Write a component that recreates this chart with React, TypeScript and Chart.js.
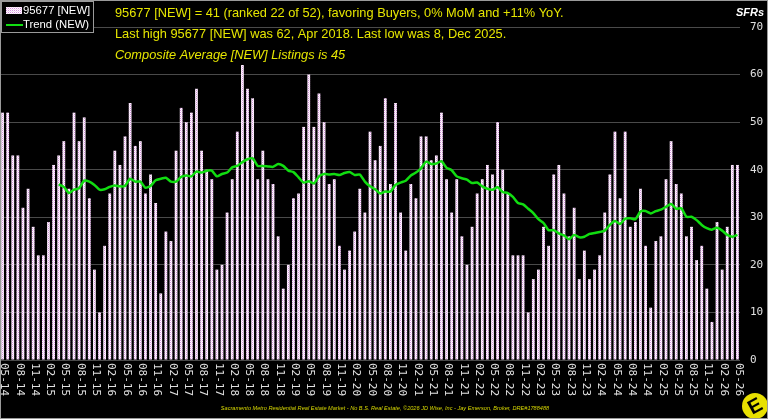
import { useEffect, useRef } from "react";
import { Chart, registerables } from "chart.js";
Chart.register(...registerables);

const months = [
  "05-14","06-14","07-14","08-14","09-14","10-14","11-14","12-14","01-15","02-15","03-15","04-15",
  "05-15","06-15","07-15","08-15","09-15","10-15","11-15","12-15","01-16","02-16","03-16","04-16",
  "05-16","06-16","07-16","08-16","09-16","10-16","11-16","12-16","01-17","02-17","03-17","04-17",
  "05-17","06-17","07-17","08-17","09-17","10-17","11-17","12-17","01-18","02-18","03-18","04-18",
  "05-18","06-18","07-18","08-18","09-18","10-18","11-18","12-18","01-19","02-19","03-19","04-19",
  "05-19","06-19","07-19","08-19","09-19","10-19","11-19","12-19","01-20","02-20","03-20","04-20",
  "05-20","06-20","07-20","08-20","09-20","10-20","11-20","12-20","01-21","02-21","03-21","04-21",
  "05-21","06-21","07-21","08-21","09-21","10-21","11-21","12-21","01-22","02-22","03-22","04-22",
  "05-22","06-22","07-22","08-22","09-22","10-22","11-22","12-22","01-23","02-23","03-23","04-23",
  "05-23","06-23","07-23","08-23","09-23","10-23","11-23","12-23","01-24","02-24","03-24","04-24",
  "05-24","06-24","07-24","08-24","09-24","10-24","11-24","12-24","01-25","02-25","03-25","04-25",
  "05-25","06-25","07-25","08-25","09-25","10-25","11-25","12-25","01-26","02-26","03-26","04-26",
  "05-26",
];

const listings = [
  52, 52, 43, 43, 32, 36, 28, 22, 22, 29, 41, 43,
  46, 36, 52, 46, 51, 34, 19, 10, 24, 35, 44, 41,
  47, 54, 45, 46, 35, 39, 33, 14, 27, 25, 44, 53,
  50, 52, 57, 44, 40, 38, 19, 20, 31, 38, 48, 62,
  57, 55, 38, 44, 38, 37, 26, 15, 20, 34, 35, 49,
  60, 49, 56, 50, 37, 38, 24, 19, 23, 27, 36, 31,
  48, 42, 45, 55, 37, 54, 31, 23, 37, 34, 47, 47,
  42, 43, 52, 38, 31, 38, 26, 20, 28, 35, 38, 41,
  39, 50, 40, 35, 22, 22, 22, 10, 17, 19, 28, 24,
  39, 41, 35, 26, 32, 17, 23, 17, 19, 22, 31, 39,
  48, 34, 48, 28, 29, 36, 24, 11, 25, 26, 38, 46,
  37, 35, 26, 28, 21, 24, 15, 8, 29, 19, 28, 41,
  41,
];

const trend = [
  null, null, null, null, null, null, null, null, null, null, null, 36.9,
  36.4, 35.1, 35.8, 36.1, 37.7, 37.5, 36.8, 35.8, 35.9, 36.4, 36.7, 36.5,
  36.6, 38.1, 37.5, 37.5, 36.2, 36.6, 37.8, 38.1, 38.3, 37.5, 37.5, 38.5,
  38.8, 38.6, 39.6, 39.4, 39.8, 39.8, 38.6, 39.1, 39.4, 40.5, 40.8, 41.6,
  42.2, 42.4, 40.8, 40.8, 40.7, 40.6, 41.2, 40.8, 39.8, 39.5, 38.4, 37.3,
  37.6, 37.1, 38.6, 39.1, 39.0, 39.1, 38.9, 39.3, 39.5, 38.9, 39.0, 37.5,
  36.5, 35.9, 35.0, 35.4, 35.4, 36.8, 37.3, 37.7, 38.8, 39.4, 40.3, 41.7,
  41.2, 41.3, 41.8, 40.4, 39.9, 38.6, 38.2, 37.9, 37.2, 37.3, 36.5, 36.0,
  35.8, 36.3, 35.3, 35.1, 34.3, 33.0, 32.7, 31.8, 30.9, 29.6, 28.8, 27.3,
  27.3, 26.6, 26.2, 25.4, 26.3, 25.8, 25.9, 26.5, 26.7, 26.9, 27.2, 28.4,
  29.2, 28.6, 29.7, 29.8, 29.6, 31.2, 31.3, 30.8, 31.3, 31.6, 32.2, 32.8,
  31.8, 31.9, 30.1, 30.1, 29.4, 28.4, 27.7, 27.4, 27.8, 27.2, 26.3, 25.9,
  26.3,
];

const seriesNames = ["95677 [NEW]", "Trend (NEW)"];
const titleLines = [
  "95677 [NEW] = 41 (ranked 22 of 52), favoring Buyers, 0% MoM and +11% YoY.",
  "Last high 95677 [NEW] was 62, Apr 2018. Last low was 8, Dec 2025.",
  "Composite Average [NEW] Listings is 45",
];
const axisTitle = "SFRs";
const footerText =
  "Sacramento Metro Residential Real Estate Market - No B.S. Real Estate, \u00a92026 JD Wise, Inc - Jay Emerson, Broker, DRE#1788488";

const YELLOW = "#e6e600";
const GREEN = "#11dd11";

function makePattern(): CanvasPattern | string {
  const c = document.createElement("canvas");
  c.width = 2;
  c.height = 2;
  const g = c.getContext("2d");
  if (!g) return "#f0d0f0";
  g.fillStyle = "#ffffff";
  g.fillRect(0, 0, 2, 2);
  g.fillStyle = "#d890e0";
  g.fillRect(0, 0, 1, 1);
  g.fillStyle = "#f4d4f6";
  g.fillRect(1, 1, 1, 1);
  const p = g.createPattern(c, "repeat");
  return p || "#f0d0f0";
}

export default function App() {
  const ref = useRef<HTMLCanvasElement | null>(null);

  useEffect(() => {
    document.body.style.margin = "0";
    document.body.style.background = "#000";
    const canvas = ref.current;
    if (!canvas) return;
    const pattern = makePattern();

    const decor = {
      id: "decor",
      beforeDraw(chart: any) {
        const ctx = chart.ctx;
        ctx.save();
        ctx.fillStyle = "#000";
        ctx.fillRect(0, 0, chart.width, chart.height);
        ctx.restore();
      },
      afterDraw(chart: any) {
        const ctx = chart.ctx;
        const xs = chart.scales.x;
        const area = chart.chartArea;
        ctx.save();
        // x labels, rotated to read downward
        ctx.font = '11px "DejaVu Sans Mono"';
        ctx.fillStyle = "#e0e0e0";
        ctx.textAlign = "left";
        ctx.textBaseline = "middle";
        months.forEach((m, i) => {
          if (i % 3 !== 0) return;
          const x = xs.getPixelForValue(i);
          ctx.save();
          ctx.translate(x + 1.5, area.bottom + 3);
          ctx.rotate(Math.PI / 2);
          ctx.fillText(m, 0, 0);
          ctx.restore();
        });

        // title lines
        ctx.fillStyle = YELLOW;
        ctx.textBaseline = "middle";
        ctx.textAlign = "left";
        ctx.font = '12.8px "Liberation Sans", Arial, sans-serif';
        ctx.fillText(titleLines[0], 115, 13);
        ctx.fillText(titleLines[1], 115, 34);
        ctx.font = 'italic 12.8px "Liberation Sans", Arial, sans-serif';
        ctx.fillText(titleLines[2], 115, 55);

        // axis title
        ctx.fillStyle = "#ffffff";
        ctx.textAlign = "right";
        ctx.font = 'italic bold 11px "Liberation Sans", Arial, sans-serif';
        ctx.fillText(axisTitle, 764, 13);

        // legend
        ctx.fillStyle = "#000";
        ctx.fillRect(1, 1, 93, 32);
        ctx.strokeStyle = "#9a9a9a";
        ctx.lineWidth = 1;
        ctx.strokeRect(1.5, 1.5, 92, 31);
        ctx.fillStyle = pattern as any;
        ctx.fillRect(6, 7, 16, 7);
        ctx.strokeStyle = GREEN;
        ctx.lineWidth = 2;
        ctx.beginPath();
        ctx.moveTo(6, 25);
        ctx.lineTo(23, 25);
        ctx.stroke();
        ctx.fillStyle = "#ffffff";
        ctx.textAlign = "left";
        ctx.font = '11.3px "Liberation Sans", Arial, sans-serif';
        ctx.fillText(seriesNames[0], 23, 11);
        ctx.fillText(seriesNames[1], 23, 25);

        // footer
        ctx.fillStyle = "#d8d800";
        ctx.textAlign = "center";
        ctx.font = 'italic 5.6px "Liberation Sans", Arial, sans-serif';
        ctx.fillText(footerText, 385, 408);

        // logo
        ctx.fillStyle = "#e8e000";
        ctx.beginPath();
        ctx.arc(755, 406, 13, 0, Math.PI * 2);
        ctx.fill();
        ctx.save();
        ctx.translate(755, 406);
        ctx.rotate(-0.5);
        ctx.fillStyle = "#000";
        ctx.textAlign = "center";
        ctx.textBaseline = "middle";
        ctx.font = 'bold 20px "Liberation Sans", Arial, sans-serif';
        ctx.fillText("E", 0, 1);
        ctx.restore();

        // frame
        ctx.strokeStyle = "#9a9a9a";
        ctx.lineWidth = 1;
        ctx.strokeRect(0.5, 0.5, chart.width - 1, chart.height - 1);
        ctx.restore();
      },
    };

    const chart = new Chart(canvas, {
      type: "bar",
      data: {
        labels: months,
        datasets: [
          {
            type: "line",
            label: seriesNames[1],
            data: trend,
            borderColor: GREEN,
            borderWidth: 2.5,
            pointRadius: 0,
            tension: 0.2,
            fill: false,
            order: 0,
            spanGaps: false,
          } as any,
          {
            type: "bar",
            label: seriesNames[0],
            data: listings,
            backgroundColor: pattern as any,
            borderWidth: 0,
            barPercentage: 0.55,
            categoryPercentage: 1,
            order: 1,
          },
        ],
      },
      options: {
        responsive: false,
        animation: false,
        devicePixelRatio: 1,
        layout: { padding: { top: 27, left: 0, right: 0, bottom: 0 } },
        plugins: {
          legend: { display: false },
          tooltip: { enabled: false },
          title: { display: false },
        },
        scales: {
          x: {
            grid: { display: false },
            border: { display: false },
            ticks: { display: false },
            afterFit(scale: any) {
              scale.height = 59;
            },
          },
          y: {
            position: "right",
            min: 0,
            max: 70,
            border: { display: false },
            grid: { color: "#4a4a4a", lineWidth: 1, drawTicks: false },
            ticks: {
              stepSize: 10,
              padding: 10,
              color: "#e0e0e0",
              font: { family: '"DejaVu Sans Mono"', size: 11 },
            },
            afterFit(scale: any) {
              scale.width = 28;
            },
          },
        },
      },
      plugins: [decor],
    });

    return () => chart.destroy();
  }, []);

  return <canvas ref={ref} width={768} height={419} style={{ display: "block" }} />;
}
